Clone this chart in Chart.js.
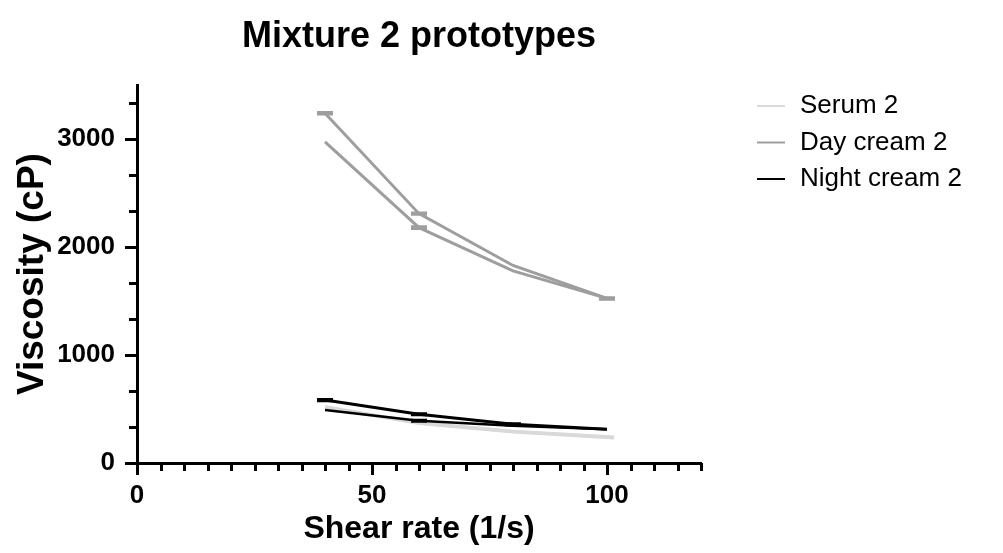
<!DOCTYPE html>
<html>
<head>
<meta charset="utf-8">
<title>Mixture 2 prototypes</title>
<script src="https://cdn.jsdelivr.net/npm/chart.js@4.4.1/dist/chart.umd.min.js"></script>
<style>
  html, body { margin: 0; padding: 0; background: #fff; }
  #wrap { width: 1003px; height: 553px; position: relative; }
</style>
</head>
<body>
<div id="wrap"><canvas id="chart"></canvas></div>
<script>
// data
const shearRate = [40, 60, 80, 100];
const serumShear = [40, 60, 80, 101.5];

const serumUp = [521, 367, 290, 234];
const serumDown = [515, 372, 293, 238];
const dayUp = [3240, 2310, 1830, 1525];
const dayDown = [2975, 2180, 1780, 1525];
const nightUp = [583, 451, 358, 312];
const nightDown = [491, 392, 345, 312];

// SD (error bars), 0 = not visible
const dayUpSd = [10, 8, 0, 7];
const dayDownSd = [0, 10, 0, 7];
const nightUpSd = [8, 7, 8, 0];
const nightDownSd = [0, 7, 0, 0];

const legendLabels = ['Serum 2', 'Day cream 2', 'Night cream 2'];
const xMajorTicks = [0, 50, 100];
const xMinorTicks = [5, 10, 15, 20, 25, 30, 35, 40, 45, 55, 60, 65, 70, 75, 80, 85, 90, 95, 105, 110, 115, 120];
const yMajorTicks = [0, 1000, 2000, 3000];
const yMinorTicks = [333.33, 666.67, 1333.33, 1666.67, 2333.33, 2666.67, 3333.33];

const COL_SERUM = '#d9d9d9';
const COL_DAY = '#9e9e9e';
const COL_NIGHT = '#000000';
const FONT = '"Liberation Sans", Arial, sans-serif';

const pts = (xs, ys) => xs.map((x, i) => ({ x, y: ys[i] }));

function series(label, xs, ys, sd, color, width, order, inLegend) {
  return {
    label, data: pts(xs, ys), errors: sd,
    borderColor: color, backgroundColor: color, borderWidth: width,
    pointRadius: 0, tension: 0, fill: false, order, inLegend
  };
}

// minor ticks on both axes
const minorTicks = {
  id: 'minorTicks',
  afterDraw(chart) {
    const { ctx, scales: { x, y } } = chart;
    ctx.save();
    ctx.strokeStyle = '#000';
    ctx.lineWidth = 3;
    ctx.beginPath();
    xMinorTicks.forEach(v => {
      const px = Math.round(x.getPixelForValue(v)) + 0.5;
      ctx.moveTo(px, y.bottom);
      ctx.lineTo(px, y.bottom + 8);
    });
    yMinorTicks.forEach(v => {
      const py = Math.round(y.getPixelForValue(v)) + 0.5;
      ctx.moveTo(x.left - 8, py);
      ctx.lineTo(x.left, py);
    });
    ctx.stroke();
    ctx.restore();
  }
};

// mean ± SD bars with caps
const errorBars = {
  id: 'errorBars',
  afterDatasetsDraw(chart) {
    const { ctx, scales: { x, y } } = chart;
    chart.data.datasets.forEach(ds => {
      if (!ds.errors) return;
      ctx.save();
      ctx.strokeStyle = ds.borderColor;
      ctx.lineWidth = 2.5;
      ds.data.forEach((p, i) => {
        const e = ds.errors[i];
        if (!e) return;
        const px = x.getPixelForValue(p.x);
        const top = y.getPixelForValue(p.y + e);
        const bot = y.getPixelForValue(p.y - e);
        ctx.beginPath();
        ctx.moveTo(px, top); ctx.lineTo(px, bot);
        ctx.moveTo(px - 8, top); ctx.lineTo(px + 8, top);
        ctx.moveTo(px - 8, bot); ctx.lineTo(px + 8, bot);
        ctx.stroke();
      });
      ctx.restore();
    });
  }
};

// legend at the right like Prism
const sideLegend = {
  id: 'sideLegend',
  afterDraw(chart, args, opts) {
    const { ctx } = chart;
    const items = chart.data.datasets.filter(d => d.inLegend);
    ctx.save();
    ctx.font = `26px ${FONT}`;
    ctx.textBaseline = 'middle';
    ctx.fillStyle = '#000';
    items.forEach((ds, i) => {
      const yy = opts.top + i * opts.rowGap;
      ctx.strokeStyle = ds.borderColor;
      ctx.lineWidth = 2;
      ctx.beginPath();
      ctx.moveTo(opts.left, yy);
      ctx.lineTo(opts.left + 28, yy);
      ctx.stroke();
      ctx.fillText(ds.label, opts.left + 43, yy);
    });
    ctx.restore();
  }
};

const datasets = [
  series(legendLabels[0], serumShear, serumUp, null, COL_SERUM, 3.5, 3, true),
  series(legendLabels[1], shearRate, dayUp, dayUpSd, COL_DAY, 3, 2, true),
  series(legendLabels[2], shearRate, nightUp, nightUpSd, COL_NIGHT, 3, 1, true),
  series(legendLabels[0], serumShear, serumDown, null, COL_SERUM, 3.5, 3, false),
  series(legendLabels[1], shearRate, dayDown, dayDownSd, COL_DAY, 3, 2, false),
  series(legendLabels[2], shearRate, nightDown, nightDownSd, COL_NIGHT, 2.5, 1, false)
];

const axisBase = {
  type: 'linear',
  grid: { drawOnChartArea: false, tickLength: 12, tickWidth: 3, tickColor: '#000' },
  border: { color: '#000', width: 3 },
};

new Chart(document.getElementById('chart'), {
  type: 'line',
  data: { datasets },
  plugins: [minorTicks, errorBars, sideLegend],
  options: {
    responsive: true,
    maintainAspectRatio: false,
    animation: false,
    devicePixelRatio: 1,
    layout: { padding: { left: 0, right: 302, top: 0, bottom: 0 } },
    plugins: {
      legend: { display: false },
      tooltip: { enabled: false },
      title: {
        display: true,
        text: 'Mixture 2 prototypes',
        fullSize: false,
        color: '#000',
        font: { family: FONT, size: 36, weight: 'bold' },
        padding: { top: 15, bottom: 27 }
      },
      sideLegend: { left: 757, top: 106, rowGap: 36.5 }
    },
    scales: {
      x: {
        ...axisBase,
        position: 'bottom',
        min: 0, max: 120,
        afterBuildTicks: s => { s.ticks = xMajorTicks.map(v => ({ value: v })); },
        afterFit: s => { s.height = 90; },
        ticks: {
          color: '#000', padding: 5, autoSkip: false, maxRotation: 0,
          callback: v => String(v),
          font: { family: FONT, size: 26, weight: 'bold' }
        },
        title: {
          display: true, text: 'Shear rate (1/s)', color: '#000',
          font: { family: FONT, size: 32, weight: 'bold' },
          padding: { top: 0, bottom: 5 }
        }
      },
      y: {
        ...axisBase,
        position: 'left',
        min: 0, max: 3500,
        afterBuildTicks: s => { s.ticks = yMajorTicks.map(v => ({ value: v })); },
        afterFit: s => { s.width = 137; },
        ticks: {
          color: '#000', padding: 10,
          callback: v => String(v),
          font: { family: FONT, size: 26, weight: 'bold' }
        },
        title: {
          display: true, text: 'Viscosity (cP)', color: '#000',
          font: { family: FONT, size: 37, weight: 'bold' },
          padding: { top: 11, bottom: 0 }
        }
      }
    }
  }
});
</script>
</body>
</html>
